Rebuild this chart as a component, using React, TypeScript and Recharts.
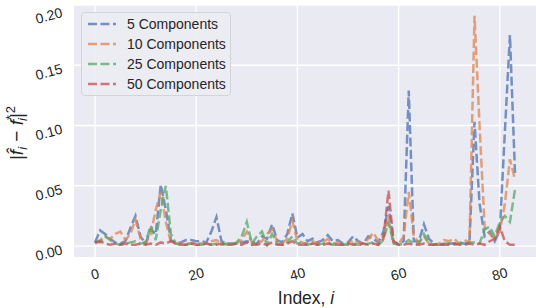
import { LineChart, Line, XAxis, YAxis, CartesianGrid } from "recharts";

// |f_hat_i - f*_i|^2 per index
const comp5 = [
  0.003, 0.013, 0.010, 0.006, 0.003, 0.002, 0.004, 0.015, 0.025, 0.008,
  0.002, 0.014, 0.010, 0.051, 0.030, 0.005, 0.002, 0.003, 0.005, 0.005,
  0.004, 0.004, 0.003, 0.012, 0.024, 0.004, 0.002, 0.002, 0.002, 0.003,
  0.004, 0.003, 0.002, 0.008, 0.006, 0.018, 0.005, 0.003, 0.010, 0.027,
  0.007, 0.010, 0.004, 0.006, 0.003, 0.005, 0.009, 0.004, 0.005, 0.002,
  0.003, 0.008, 0.004, 0.002, 0.008, 0.006, 0.003, 0.012, 0.033, 0.003,
  0.002, 0.004, 0.129, 0.004, 0.004, 0.018, 0.006, 0.002, 0.001, 0.001,
  0.002, 0.002, 0.003, 0.002, 0.003, 0.103, 0.035, 0.008, 0.012, 0.004,
  0.013, 0.095, 0.175, 0.060,
];
const comp10 = [
  0.002, 0.005, 0.008, 0.006, 0.010, 0.012, 0.005, 0.010, 0.022, 0.006,
  0.002, 0.010, 0.030, 0.045, 0.020, 0.003, 0.002, 0.002, 0.002, 0.002,
  0.003, 0.002, 0.002, 0.004, 0.005, 0.002, 0.001, 0.002, 0.002, 0.005,
  0.012, 0.003, 0.002, 0.004, 0.010, 0.014, 0.004, 0.002, 0.006, 0.021,
  0.004, 0.003, 0.002, 0.004, 0.002, 0.003, 0.006, 0.002, 0.003, 0.001,
  0.002, 0.005, 0.003, 0.002, 0.006, 0.011, 0.004, 0.008, 0.022, 0.003,
  0.002, 0.008, 0.045, 0.008, 0.003, 0.008, 0.002, 0.001, 0.002, 0.005,
  0.004, 0.006, 0.002, 0.005, 0.003, 0.191, 0.100, 0.016, 0.010, 0.006,
  0.012, 0.035, 0.072, 0.055,
];
const comp25 = [
  0.004, 0.003, 0.008, 0.005, 0.002, 0.001, 0.002, 0.003, 0.004, 0.002,
  0.003, 0.017, 0.005, 0.030, 0.050, 0.010, 0.002, 0.001, 0.001, 0.002,
  0.001, 0.001, 0.002, 0.001, 0.002, 0.001, 0.002, 0.001, 0.003, 0.008,
  0.020, 0.002, 0.008, 0.012, 0.001, 0.010, 0.002, 0.001, 0.003, 0.008,
  0.002, 0.003, 0.001, 0.002, 0.001, 0.002, 0.003, 0.001, 0.002, 0.001,
  0.001, 0.002, 0.001, 0.001, 0.002, 0.003, 0.001, 0.005, 0.020, 0.002,
  0.001, 0.002, 0.005, 0.002, 0.002, 0.010, 0.002, 0.001, 0.001, 0.002,
  0.002, 0.001, 0.002, 0.002, 0.003, 0.003, 0.002, 0.014, 0.016, 0.008,
  0.020, 0.025, 0.020, 0.047,
];
const comp50 = [
  0.003, 0.004, 0.002, 0.001, 0.002, 0.001, 0.002, 0.001, 0.001, 0.002,
  0.001, 0.002, 0.001, 0.003, 0.002, 0.004, 0.002, 0.001, 0.001, 0.002,
  0.001, 0.001, 0.002, 0.001, 0.001, 0.002, 0.001, 0.001, 0.002, 0.001,
  0.003, 0.001, 0.001, 0.002, 0.001, 0.003, 0.001, 0.001, 0.002, 0.004,
  0.001, 0.001, 0.001, 0.002, 0.001, 0.001, 0.002, 0.001, 0.001, 0.001,
  0.002, 0.001, 0.001, 0.002, 0.001, 0.002, 0.001, 0.006, 0.046, 0.004,
  0.001, 0.001, 0.002, 0.001, 0.001, 0.002, 0.001, 0.001, 0.002, 0.001,
  0.001, 0.002, 0.001, 0.001, 0.002, 0.001, 0.002, 0.001, 0.004, 0.006,
  0.016, 0.004, 0.001, 0.001,
];

const seriesKeys = ["c5", "c10", "c25", "c50"];
const seriesNames = ["5 Components", "10 Components", "25 Components", "50 Components"];
const seriesColors = ["#4C72B0", "#DD8452", "#55A868", "#C44E52"];
const xTicks = [0, 20, 40, 60, 80];
const yTicks = [0, 0.05, 0.1, 0.15, 0.2];

const data = comp5.map((v, i) => ({
  i,
  c5: v,
  c10: comp10[i],
  c25: comp25[i],
  c50: comp50[i],
}));

const FONT = "'Liberation Sans', Arial, sans-serif";
const DASH = "9 3.5";

function XTick(props: any) {
  const { x, payload } = props;
  return (
    <text
      x={x}
      y={279}
      textAnchor="middle"
      fontSize={14}
      fontFamily={FONT}
      fill="#262626"
      transform={`rotate(-15, ${x}, 274)`}
    >
      {payload.value}
    </text>
  );
}

function YTick(props: any) {
  const { y, payload } = props;
  return (
    <text
      x={62}
      y={y + 8}
      textAnchor="end"
      fontSize={14}
      fontFamily={FONT}
      fill="#262626"
      transform={`rotate(-15, 62, ${y + 3})`}
    >
      {Number(payload.value).toFixed(2)}
    </text>
  );
}

function YLabel() {
  return (
    <text
      x={0}
      y={0}
      fontSize={19}
      fontFamily={FONT}
      fill="#262626"
      textAnchor="middle"
      transform="translate(23, 133) rotate(-90)"
    >
      <tspan>|</tspan>
      <tspan fontStyle="italic">f̂</tspan>
      <tspan fontStyle="italic" fontSize={13} dy={4}>i</tspan>
      <tspan dy={-4}> − </tspan>
      <tspan fontStyle="italic">f</tspan>
      <tspan fontSize={13} dy={-8}>*</tspan>
      <tspan fontStyle="italic" fontSize={13} dx={-6} dy={12}>i</tspan>
      <tspan dy={-4}>|</tspan>
      <tspan fontSize={13} dy={-8}>2</tspan>
    </text>
  );
}

function XLabel() {
  return (
    <text
      x={306}
      y={304}
      fontSize={17.5}
      fontFamily={FONT}
      fill="#262626"
      textAnchor="middle"
    >
      Index, <tspan fontStyle="italic">i</tspan>
    </text>
  );
}

function LegendBox() {
  return (
    <div
      style={{
        position: "absolute",
        left: 81,
        top: 12,
        width: 148,
        height: 82,
        border: "1px solid #d3d3da",
        borderRadius: 4,
        background: "rgba(236,236,243,0.9)",
        fontFamily: FONT,
        fontSize: 14,
        color: "#262626",
      }}
    >
      {seriesNames.map((name, k) => (
        <div
          key={name}
          style={{ display: "flex", alignItems: "center", height: 20, marginTop: k === 0 ? 1 : 0 }}
        >
          <svg width={40} height={20} style={{ marginLeft: 5 }}>
            <line
              x1={1}
              y1={10}
              x2={29}
              y2={10}
              stroke={seriesColors[k]}
              strokeOpacity={0.75}
              strokeWidth={2.5}
              strokeDasharray={DASH}
            />
          </svg>
          <span>{name}</span>
        </div>
      ))}
    </div>
  );
}

export default function App() {
  return (
    <div style={{ position: "absolute", left: 0, top: 0, width: 536, height: 308, background: "#fff" }}>
      <LineChart
        width={536}
        height={308}
        data={data}
        margin={{ top: 5, right: 0, bottom: 0, left: 0 }}
      >
        <CartesianGrid
          fill="#EAEAF2"
          stroke="#ffffff"
          strokeWidth={1.3}
          horizontalValues={yTicks}
          verticalValues={xTicks}
        />
        <XAxis
          dataKey="i"
          type="number"
          domain={[-4.15, 87.15]}
          ticks={xTicks}
          axisLine={false}
          tickLine={false}
          tick={<XTick />}
          height={51}
          allowDataOverflow
          label={<XLabel />}
        />
        <YAxis
          type="number"
          domain={[-0.0091, 0.2]}
          ticks={yTicks}
          axisLine={false}
          tickLine={false}
          tick={<YTick />}
          width={74}
          allowDataOverflow
          label={<YLabel />}
        />
        {seriesKeys.map((key, k) => (
          <Line
            key={key}
            type="linear"
            dataKey={key}
            name={seriesNames[k]}
            stroke={seriesColors[k]}
            strokeOpacity={0.75}
            strokeWidth={2.5}
            strokeDasharray={DASH}
            dot={false}
            activeDot={false}
            isAnimationActive={false}
          />
        ))}
      </LineChart>
      <LegendBox />
    </div>
  );
}
